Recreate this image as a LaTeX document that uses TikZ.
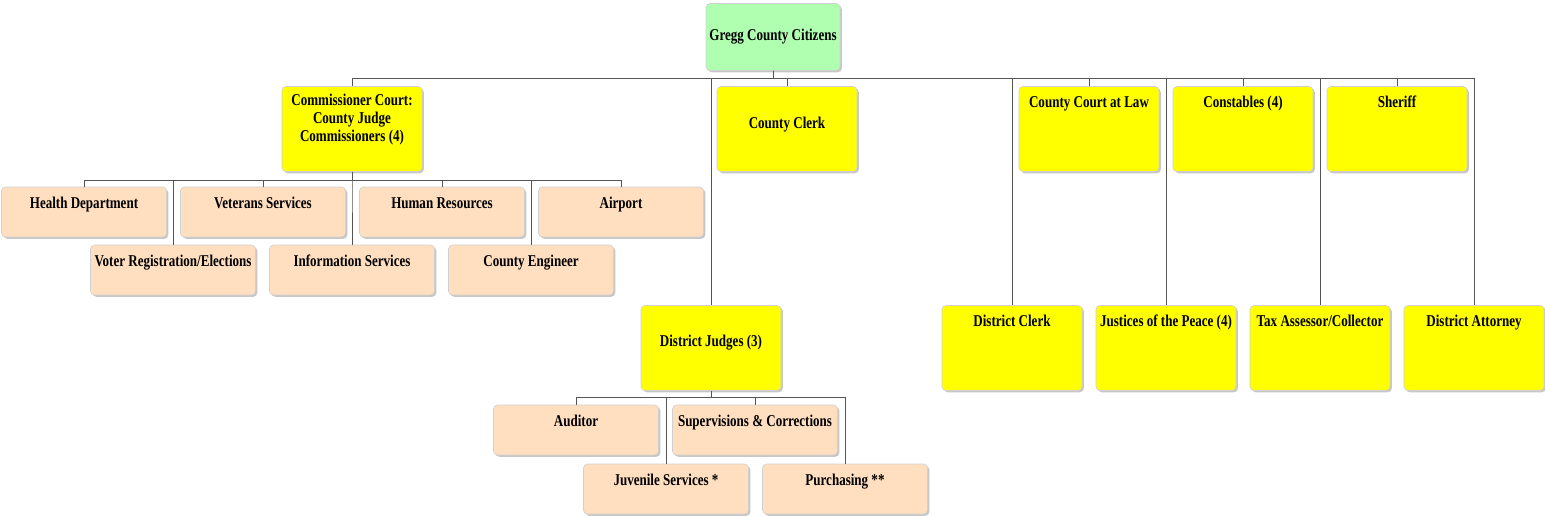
\documentclass[tikz,border=0pt]{standalone}
\usepackage{fontspec}
\setmainfont{Liberation Serif}[FakeStretch=0.79]
\usetikzlibrary{shadows}
\definecolor{citgreen}{HTML}{B0FFB0}
\definecolor{officeyellow}{HTML}{FFFF00}
\definecolor{deptpeach}{HTML}{FFDFC0}
\definecolor{wiregrey}{HTML}{555555}
\definecolor{edgegrey}{HTML}{D0D0D0}

\begin{document}
\begin{tikzpicture}[x=1pt, y=-1pt,
    font=\fontsize{16.5}{18}\selectfont\bfseries,
    box/.style={draw=edgegrey, line width=0.6pt, rounded corners=4pt,
                inner sep=0pt, align=center,
                drop shadow={shadow xshift=1.8pt, shadow yshift=-1.8pt,
                             fill=black!22, opacity=1}},
    office/.style={box, fill=officeyellow, minimum width=140pt,
                   text height=21pt, text depth=64pt},
    dept/.style={box, fill=deptpeach, minimum width=165pt,
                 text height=21.5pt, text depth=28.5pt},
    wire/.style={wiregrey, line width=0.8pt}]
  \useasboundingbox (0,0) rectangle (1545,516);

  % top of the chart
  \node[box, fill=citgreen, minimum width=134pt,
        text height=37pt, text depth=30pt] (citizens) at (773,37)
    {Gregg County Citizens};

  % elected offices
  \node[office, text height=55pt, text depth=30pt] (court) at (352,129)
    {Commissioner Court:\\County Judge\\Commissioners (4)};
  \node[office, text height=42pt, text depth=43pt] (clerk) at (787,129)
    {County Clerk};
  \foreach \lab [count=\i from 0] in {County Court at Law, Constables (4), Sheriff}
    \node[office] (top\i) at (1089+\i*154,129) {\lab};
  \node[office, text height=41pt, text depth=44pt] (judges) at (711,348)
    {District Judges (3)};
  \foreach \lab [count=\i from 0] in {District Clerk, Justices of the Peace (4),
      Tax Assessor/Collector, District Attorney}
    \node[office] (low\i) at (1012+\i*154,348) {\lab};

  % departments under the court
  \foreach \lab [count=\i from 0] in {Health Department, Veterans Services,
      Human Resources, Airport}
    \node[dept] (d\i) at (84+\i*179,212) {\lab};
  \foreach \lab [count=\i from 0] in {Voter Registration/Elections,
      Information Services, County Engineer}
    \node[dept] (e\i) at (173+\i*179,270) {\lab};

  % departments under the district judges
  \node[dept] (auditor) at (576,430) {Auditor};
  \node[dept] (supcor) at (755,430) {Supervisions \& Corrections};
  \node[dept] (juvenile) at (666,489) {Juvenile Services *};
  \node[dept] (purchasing) at (845,489) {Purchasing **};

  \foreach \n in {court, clerk, top0, top1, top2, judges, low0, low1, low2, low3}
    \draw[wire] (citizens.south) -- ++(0,7.5) -| (\n.north);
  \foreach \n in {d0, d1, d2, d3, e0, e1, e2}
    \draw[wire] (court.south) -- ++(0,9) -| (\n.north);
  \foreach \n in {auditor, supcor, juvenile, purchasing}
    \draw[wire] (judges.south) -- ++(0,7) -| (\n.north);
\end{tikzpicture}
\end{document}
